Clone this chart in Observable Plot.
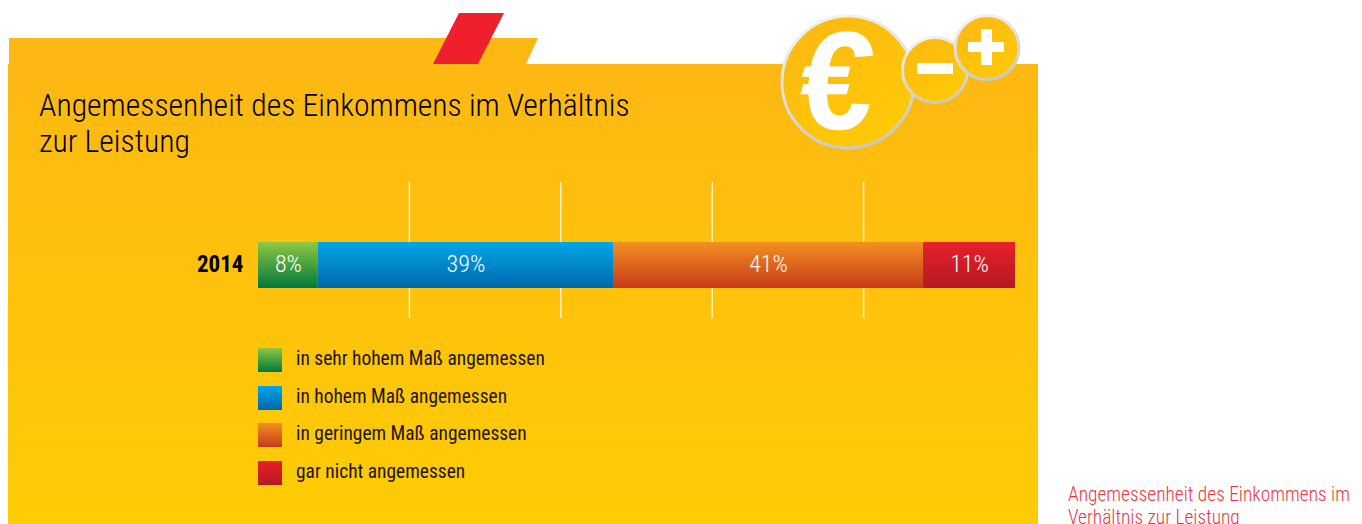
<!DOCTYPE html>
<html lang="de">
<head>
<meta charset="utf-8">
<script src="https://cdn.jsdelivr.net/npm/d3@7"></script>
<script src="https://cdn.jsdelivr.net/npm/@observablehq/plot@0.6"></script>
<style>
  html,body{margin:0;padding:0;width:1362px;height:524px;overflow:hidden;background:#fff}
  body{position:relative;font-family:"Roboto Condensed","Liberation Sans",sans-serif;font-weight:300}
  #art{position:absolute;left:0;top:0}
  #title{position:absolute;left:39px;top:88px;margin:0;font-size:31.7px;line-height:36px;font-weight:300;color:#000;white-space:nowrap}
  #chart{position:absolute;left:0;top:182px;width:1362px;height:136px}
  #legend{position:absolute;left:258px;top:348px}
  .item{position:absolute;left:0;height:24px;white-space:nowrap;font-size:19.45px;line-height:22px;color:#1c1600;font-weight:400}
  .item i{position:absolute;left:0;top:0;width:24px;height:24px}
  .item span{position:absolute;left:38px;top:0}
  #caption{position:absolute;left:1068px;top:483px;font-size:19.4px;line-height:23px;color:#ef3340;white-space:nowrap}
</style>
</head>
<body>
<svg id="art" width="1362" height="524" xmlns="http://www.w3.org/2000/svg">
  <defs>
    <linearGradient id="panel" x1="0" y1="0" x2="0" y2="1"><stop offset="0" stop-color="#fdb813"/><stop offset="1" stop-color="#ffcc05"/></linearGradient>
    <linearGradient id="coin" x1="0.15" y1="0" x2="0.8" y2="1"><stop offset="0" stop-color="#fdb813"/><stop offset="1" stop-color="#ffcb05"/></linearGradient>
    <linearGradient id="ring" x1="0.3" y1="0" x2="0.6" y2="1"><stop offset="0" stop-color="#f2f2f0"/><stop offset="1" stop-color="#c9c9c6"/></linearGradient>
  </defs>
  <polygon points="9,38 538,38 526,64 9,64" fill="#fdb813"/>
  <rect x="8" y="64" width="1030" height="460" fill="url(#panel)"/>
  <polygon points="459,13 504,13 478,64 433,64" fill="#ef1f2d"/>
  <circle cx="848" cy="82" r="66" fill="url(#coin)" stroke="url(#ring)" stroke-width="3"/>
  <text transform="translate(833,129) skewX(-5) scale(0.94,1)" text-anchor="middle" font-family="Liberation Sans" font-weight="700" font-size="140" fill="#fff">€</text>
  <circle cx="935" cy="70" r="32.5" fill="url(#coin)" stroke="url(#ring)" stroke-width="3"/>
  <rect x="917" y="63" width="36" height="11" fill="#fff"/>
  <circle cx="987" cy="47.5" r="32" fill="url(#coin)" stroke="url(#ring)" stroke-width="3"/>
  <rect x="968" y="42" width="36" height="10" fill="#fff"/>
  <rect x="981" y="29" width="11" height="36" fill="#fff"/>
</svg>
<h1 id="title">Angemessenheit des Einkommens im Verhältnis<br>zur Leistung</h1>
<div id="chart"></div>
<div id="legend"></div>
<div id="caption">Angemessenheit des Einkommens im<br>Verhältnis zur Leistung</div>
<script>
const year = "2014";
const series = ["in sehr hohem Maß angemessen", "in hohem Maß angemessen", "in geringem Maß angemessen", "gar nicht angemessen"];
const shares = [7.9, 39, 40.95, 12.15];
const labels = ["8%", "39%", "41%", "11%"];
const gridTicks = [20, 40, 60, 80];
const gradientIds = ["gGreen", "gBlue", "gOrange", "gRed"];
const gradientTop = ["#8fc742", "#00a7e7", "#f39022", "#e8202c"];
const gradientBottom = ["#007a3c", "#0068ad", "#c63a1a", "#b4191f"];

const table = series.map((s, i) => ({series: s, year, share: shares[i], label: labels[i], paint: `url(#${gradientIds[i]})`}));

function gradients() {
  const defs = d3.create("svg:defs");
  gradientIds.forEach((id, i) => {
    const g = defs.append("linearGradient").attr("id", id).attr("x1", 0).attr("y1", 0).attr("x2", 0).attr("y2", 1);
    g.append("stop").attr("offset", 0).attr("stop-color", gradientTop[i]);
    g.append("stop").attr("offset", 1).attr("stop-color", gradientBottom[i]);
  });
  return defs.node();
}

const plot = Plot.plot({
  width: 1362,
  height: 136,
  marginLeft: 258,
  marginRight: 347,
  marginTop: 0,
  marginBottom: 0,
  style: {background: "transparent", fontFamily: '"Roboto Condensed","Liberation Sans",sans-serif'},
  x: {domain: [0, 100], axis: null},
  y: {domain: [year], range: [60, 106], padding: 0, label: null},
  marks: [
    gradients,
    Plot.ruleX(gridTicks, {stroke: "#fff3c4", strokeWidth: 1.5, dx: -0.5}),
    Plot.barX(table, Plot.stackX({x: "share", y: "year", z: "series", order: null, fill: {value: "paint", scale: null}})),
    Plot.text(table, Plot.stackX({x: "share", y: "year", z: "series", order: null, text: "label", fill: "#fff", fontSize: 24, fontWeight: 300, dy: -1})),
    Plot.axisY({tickSize: 0, tickPadding: 15, fontSize: 23, fontWeight: 700, fill: "#000", dy: -1, label: null})
  ]
});
document.getElementById("chart").append(plot);

const legend = d3.select("#legend");
const legendTops = [0, 38, 75, 113];
series.forEach((s, i) => {
  const item = legend.append("div").attr("class", "item").style("top", legendTops[i] + "px");
  item.append("i").style("background", `linear-gradient(${gradientTop[i]},${gradientBottom[i]})`);
  item.append("span").text(s);
});
</script>
</body>
</html>
